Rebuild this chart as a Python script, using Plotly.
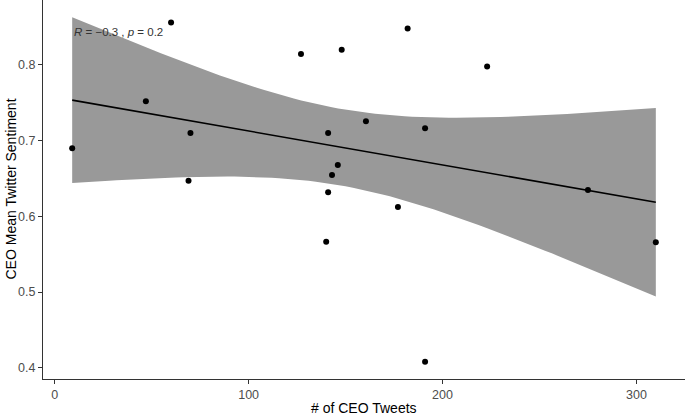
# CEO tweet count vs mean twitter sentiment, with lm fit + 95% band

import plotly.graph_objects as go
import numpy as np

# data
ceo_tweets = [9, 47, 60, 70, 69, 127, 148, 182, 223, 160.5,
              141, 191, 146, 143, 141, 140, 177, 191, 310, 275]
mean_sentiment = [0.690, 0.752, 0.856, 0.710, 0.647, 0.8145, 0.820, 0.848, 0.798, 0.7256,
                  0.710, 0.7164, 0.668, 0.6547, 0.632, 0.5665, 0.6123, 0.408, 0.5657, 0.6347]
x_ticks = [0, 100, 200, 300]
y_ticks = [0.4, 0.5, 0.6, 0.7, 0.8]
cor_label = "<i>R</i> = −0.3 , <i>p</i> = 0.2"

T_CRIT = 2.100922  # t(0.975, df=18)

x = np.array(ceo_tweets, dtype=float)
y = np.array(mean_sentiment, dtype=float)
n = len(x)

# ordinary least squares, like geom_smooth(method="lm")
slope, intercept = np.polyfit(x, y, 1)
resid = y - (intercept + slope * x)
s = np.sqrt(np.sum(resid**2) / (n - 2))
sxx = np.sum((x - x.mean())**2)

xs = np.linspace(x.min(), x.max(), 80)
fit = intercept + slope * xs
se = s * np.sqrt(1 / n + (xs - x.mean())**2 / sxx)
lo = fit - T_CRIT * se
hi = fit + T_CRIT * se

# ggplot style 5% expansion
xr = x.max() - x.min()
ymin = min(y.min(), lo.min())
ymax = max(y.max(), hi.max())
yr = ymax - ymin

fig = go.Figure()

fig.add_trace(go.Scatter(
    x=np.concatenate([xs, xs[::-1]]),
    y=np.concatenate([hi, lo[::-1]]),
    fill="toself", fillcolor="#999999",
    line=dict(width=0), mode="lines", hoverinfo="skip", showlegend=False
))
fig.add_trace(go.Scatter(
    x=xs, y=fit, mode="lines",
    line=dict(color="black", width=1.6), showlegend=False
))
fig.add_trace(go.Scatter(
    x=x, y=y, mode="markers",
    marker=dict(color="black", size=6), showlegend=False
))

fig.add_annotation(
    x=x.min(), y=0.843, xref="x", yref="y",
    text=cor_label, showarrow=False, xanchor="left", yanchor="middle",
    font=dict(size=11.5, color="#333333")
)
# axis titles placed by hand so the panel keeps the reference margins
fig.add_annotation(
    x=0.5, y=-0.0765, xref="paper", yref="paper",
    text="# of CEO Tweets", showarrow=False, xanchor="center", yanchor="middle",
    font=dict(size=14, color="black")
)
fig.add_annotation(
    x=-0.0514, y=0.5, xref="paper", yref="paper", textangle=-90,
    text="CEO Mean Twitter Sentiment", showarrow=False, xanchor="center", yanchor="middle",
    font=dict(size=14, color="black")
)

axis_common = dict(
    showline=True, linecolor="#333333", linewidth=1,
    ticks="outside", ticklen=4, tickcolor="#333333", tickwidth=1,
    showgrid=False, zeroline=False, automargin=False,
    tickfont=dict(size=12.5, color="#4D4D4D"),
)

fig.update_layout(
    width=685, height=416,
    margin=dict(l=43, r=0, t=0, b=37),
    plot_bgcolor="white", paper_bgcolor="white",
    font=dict(family="Liberation Sans, Arial, sans-serif"),
    xaxis=dict(range=[x.min() - 0.05 * xr, x.max() + 0.05 * xr],
               tickvals=x_ticks, **axis_common),
    yaxis=dict(range=[ymin - 0.05 * yr, ymax + 0.05 * yr],
               tickvals=y_ticks, tickformat=".1f", **axis_common),
)

# drop the browser's default body margin so the figure sits at the page corner
fig.write_html("out.html", config={"displayModeBar": False},
               post_script="document.body.style.margin='0px';")
